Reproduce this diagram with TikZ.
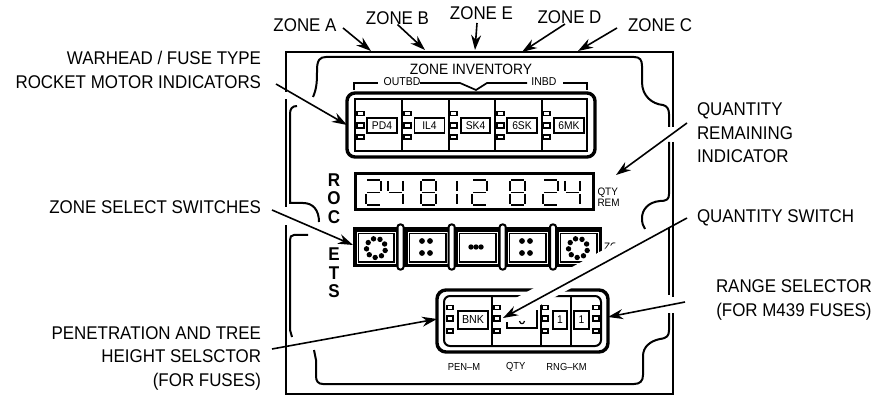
\documentclass[tikz,border=0pt]{standalone}
\usepackage{fontspec}
\setmainfont[FakeStretch=0.92]{Liberation Sans}
\usetikzlibrary{arrows.meta,positioning}

\newcommand{\sega}{(1,0) -- (14,0)}
\newcommand{\segb}{(15,1) -- (15,11)}
\newcommand{\segc}{(15,14) -- (15,24)}
\newcommand{\segd}{(1,25) -- (14,25)}
\newcommand{\sege}{(0,14) -- (0,24)}
\newcommand{\segf}{(0,1) -- (0,11)}
\newcommand{\segg}{(1,12.5) -- (14,12.5)}
\newcommand{\segdigit}[2]{\begin{scope}[shift={(#1,180)}]
  \foreach \s in {#2}{\draw[segline] \csname seg\s\endcsname;}
\end{scope}}

\begin{document}
\begin{tikzpicture}[x=1pt,y=-1pt,
  lbl/.style={font=\fontsize{18.4}{23.5}\selectfont,inner sep=0pt,outer sep=0pt},
  tagbox/.style={draw,line width=1.8pt,minimum height=15pt,inner sep=0pt,outer sep=0pt,font=\fontsize{11.2}{12}\selectfont},
  tiny/.style={font=\fontsize{10.8}{10.5}\selectfont,inner sep=0pt,outer sep=0pt,align=left},
  vlet/.style={font=\fontsize{18.5}{17}\selectfont\bfseries,inner sep=0pt},
  tab/.style={draw,line width=1.4pt,fill=white},
  framel/.style={line width=2pt},
  segline/.style={line width=1.8pt},
  callout/.style={line width=1.6pt,-{Stealth[length=15pt,width=10pt]}}]
\useasboundingbox (0,0) rectangle (877,395);
% outer frame
\draw[framel] (286,92) -- (286,52) -- (673,52) -- (673,127);
\draw[framel] (673,142) -- (673,297);
\draw[framel] (673,313) -- (673,394) -- (286,394) -- (286,225);
\draw[framel] (286,207) -- (286,99);
% inner frame
\draw[framel] (313,97) .. controls (317,88) and (317,80) .. (317,70) .. controls (317,60) and (320,57) .. (326,57)
  -- (634,57) .. controls (640,57) and (642,60) .. (642,66) -- (642,82) .. controls (642,96) and (652,104) .. (663,105)
  .. controls (667,106) and (669,109) .. (669,114) -- (669,127);
\draw[framel] (669,142) -- (669,194) .. controls (669,199) and (667,201) .. (660,201)
  .. controls (648,202) and (642,210) .. (642,218) .. controls (642,223) and (643,226) .. (645,229);
\draw[framel] (669,227) -- (669,295);
\draw[framel] (669,313) -- (669,330) .. controls (669,336) and (667,338) .. (660,339)
  .. controls (650,341) and (643,347) .. (643,356) -- (643,375) .. controls (643,381) and (640,384) .. (634,384)
  -- (323,384) .. controls (318,384) and (316,381) .. (316,376) -- (316,360) -- (314,350);
\draw[framel] (297,106) .. controls (292,106) and (290,109) .. (290,114) -- (290,203) -- (303,203)
  .. controls (313,203) and (319,210) .. (319,222);
\draw[framel] (308,235) -- (294,235) .. controls (291,235) and (290,237) .. (290,240) -- (290,330) -- (292,337);
% zone inventory module
\node[draw,line width=3.4pt,rounded corners=8pt,minimum width=248pt,minimum height=64pt,outer sep=0pt] (upmod) at (471,125) {};
\node[draw,line width=2pt,minimum width=232pt,minimum height=52pt,outer sep=0pt] (upin) at (471,125) {};
\foreach \xx in {402,449,495,542} \draw[line width=1.7pt] (\xx,99) -- (\xx,151);
\foreach \xx in {357,404,450,497,543} {
  \draw[tab] (\xx,111.5) rectangle +(7,4);
  \draw[tab] (\xx,123) rectangle +(7,5);
  \draw[tab] (\xx,135) rectangle +(7,4);
}
\node[tagbox,minimum width=30pt] (pd) at (382,125.5) {PD4};
\node[tagbox,minimum width=30pt] (il) at (429.5,125.5) {IL4};
\node[tagbox,minimum width=29pt] (sk) at (475.5,125.5) {SK4};
\node[tagbox,minimum width=30pt] (six) at (522,125.5) {6SK};
\node[tagbox,minimum width=30pt] (mk) at (569,125.5) {6MK};
\node[lbl,font=\fontsize{15}{15}\selectfont] (inv) at (471,69) {ZONE INVENTORY};
\node[tiny,font=\fontsize{11.4}{11}\selectfont] (outbd) at (402,82) {OUTBD};
\node[tiny,font=\fontsize{11.4}{11}\selectfont] (inbd) at (544,82) {INBD};
\draw[line width=1.7pt] (354,90) -- (354,83) -- (378,83);
\draw[line width=1.7pt] (420,83) -- (460,83) -- (476,90) -- (487,83) -- (527,83);
\draw[line width=1.7pt] (563,83) -- (587,83) -- (587,90);
% quantity display
\node[draw,line width=3pt,minimum width=238pt,minimum height=36pt,outer sep=0pt] (disp) at (474,192) {};
\segdigit{366}{a,b,g,e,d}
\segdigit{388}{f,g,b,c}
\segdigit{421}{a,b,c,d,e,f,g}
\segdigit{442}{b,c}
\segdigit{472}{a,b,g,e,d}
\segdigit{510}{a,b,c,d,e,f,g}
\segdigit{543}{a,b,g,e,d}
\segdigit{565}{f,g,b,c}
\node[tiny,right=5pt of disp,yshift=-5pt,xshift=-0.5pt] (qtyrem) at (disp.east) {QTY\\REM};
% rockets letters
\foreach \ltr/\yy in {R/180,O/198.5,C/217,E/254.5,T/273,S/291}
  \node[vlet] (rk\ltr) at (334,\yy) {\ltr};
% zone select switches
\node[fill=black,minimum width=249pt,minimum height=40pt,inner sep=0pt,outer sep=0pt] (swrow) at (477.5,247) {};
\foreach \xa/\xb in {357/395,408/447,458/497,508/547,559/598} {
  \draw[white,line width=0.9pt] (\xa,232) rectangle (\xb,263);
  \draw[fill=white,line width=1.5pt] (\xa+1.5,233.5) rectangle (\xb-1.5,261.5);
}
\foreach \xx in {400.5,451.7,502.7,553} {
  \draw[fill=white,line width=2pt,rounded corners=2.5pt] (\xx-3,224.5) rectangle (\xx+3,269.5);
}
\foreach \cx in {376,578}
  \foreach \ang in {15,55,...,335} \fill (\cx,248) ++(\ang:9.5) circle (2.7);
\foreach \cx in {422,522}
  \foreach \dx/\yy in {0/241,8/241,0/253,8/253} \fill (\cx+\dx,\yy) circle (2.9);
\foreach \dx in {0,5,10} \fill (471+\dx,247) circle (2.7);
\node[tiny,anchor=west] (zo) at (604,247) {ZO};
% range module
\node[draw,line width=3.4pt,rounded corners=9pt,minimum width=171pt,minimum height=62pt,outer sep=0pt] (lowmod) at (522.5,321) {};
\node[draw,line width=2pt,rounded corners=6pt,minimum width=157pt,minimum height=50pt,outer sep=0pt] (lowin) at (522.5,321) {};
\foreach \xx in {492,541,571} \draw[line width=1.5pt] (\xx,296) -- (\xx,346);
\foreach \xx in {447,494,542,593} {
  \draw[tab] (\xx,305.5) rectangle +(6,4);
  \draw[tab] (\xx,316) rectangle +(6,5);
  \draw[tab] (\xx,329) rectangle +(6,4);
}
\node[tagbox,minimum width=30pt,minimum height=18pt,font=\fontsize{11.6}{12}\selectfont] (bnk) at (473,320) {BNK};
\node[tagbox,minimum width=14pt,minimum height=18pt] (rngl) at (560,320) {1};
\node[tagbox,minimum width=15pt,minimum height=18pt] (rngr) at (581.5,320) {1};
\node[tiny,font=\fontsize{10.2}{10}\selectfont,below=11pt of lowmod.south west,xshift=27pt] (penm) {PEN--M};
\node[tiny,font=\fontsize{10.2}{10}\selectfont,right=26pt of penm] (qtylbl) {QTY};
\node[tiny,font=\fontsize{10.2}{10}\selectfont,right=21pt of qtylbl] (rngkm) {RNG--KM};
% white band along quantity switch arrow
\draw[white,line width=18pt] (640,240) -- (509,312);
% quantity box left over
\draw[line width=1.8pt] (507,322) -- (507,328) -- (537,328) -- (537,310);
\draw[line width=1.2pt] (519.5,321) .. controls (520,324.5) and (524,324.5) .. (524.5,321);
% labels
\node[lbl,anchor=south] (zonea) at (305,32) {ZONE A};
\node[lbl,anchor=south] (zoneb) at (397.5,24.5) {ZONE B};
\node[lbl,anchor=south] (zonee) at (481.5,20) {ZONE E};
\node[lbl,anchor=south] (zoned) at (569.5,24) {ZONE D};
\node[lbl,anchor=south] (zonec) at (660,32) {ZONE C};
\node[lbl,anchor=east,align=right] (warhead) at (261,70) {WARHEAD / FUSE TYPE\\ROCKET MOTOR INDICATORS};
\node[lbl,anchor=east] (zonesel) at (261,207) {ZONE SELECT SWITCHES};
\node[lbl,anchor=east,align=right] (pen) at (261,358) {PENETRATION AND TREE\\HEIGHT SELSCTOR\\(FOR FUSES)};
\node[lbl,anchor=west,align=left] (qtyind) at (697,133) {QUANTITY\\REMAINING\\INDICATOR};
\node[lbl,anchor=west] (qtysw) at (697,218) {QUANTITY SWITCH};
\node[lbl,anchor=west,align=center] (range) at (716,300) {RANGE SELECTOR\\(FOR M439 FUSES)};
% tip points
\coordinate (tipa) at (371,51);
\coordinate (tipb) at (425,50);
\coordinate (tipe) at (475,50);
\coordinate (tipd) at (522,52);
\coordinate (tipc) at (578,51);
\coordinate (tipq) at (616,175);
\coordinate (tipsw) at (503,318);
% arrows
\draw[callout] ([shift={(38pt,-9pt)}]zonea.north) -- (tipa);
\draw[callout] (zoneb.south) -- (tipb);
\draw[callout] ([xshift=-4.5pt,yshift=-3pt]zonee.south) -- (tipe);
\draw[callout] ([xshift=-4.5pt]zoned.south) -- (tipd);
\draw[callout] ([shift={(-43pt,-9pt)}]zonec.north) -- (tipc);
\draw[callout] ([shift={(15pt,-14pt)}]warhead.east) -- (upmod.west);
\draw[callout] ([shift={(11pt,-3pt)}]zonesel.east) -- ([yshift=2pt]swrow.west);
\draw[callout] ([shift={(11pt,9pt)}]pen.east) -- ([yshift=2pt]lowmod.west);
\draw[callout] ([shift={(-10pt,10pt)}]qtyind.west) -- (tipq);
\draw[callout] ([xshift=-10pt]qtysw.west) -- (tipsw);
\draw[callout] ([shift={(-31pt,-2pt)}]range.west) -- ([yshift=4pt]lowmod.east);
\end{tikzpicture}
\end{document}
